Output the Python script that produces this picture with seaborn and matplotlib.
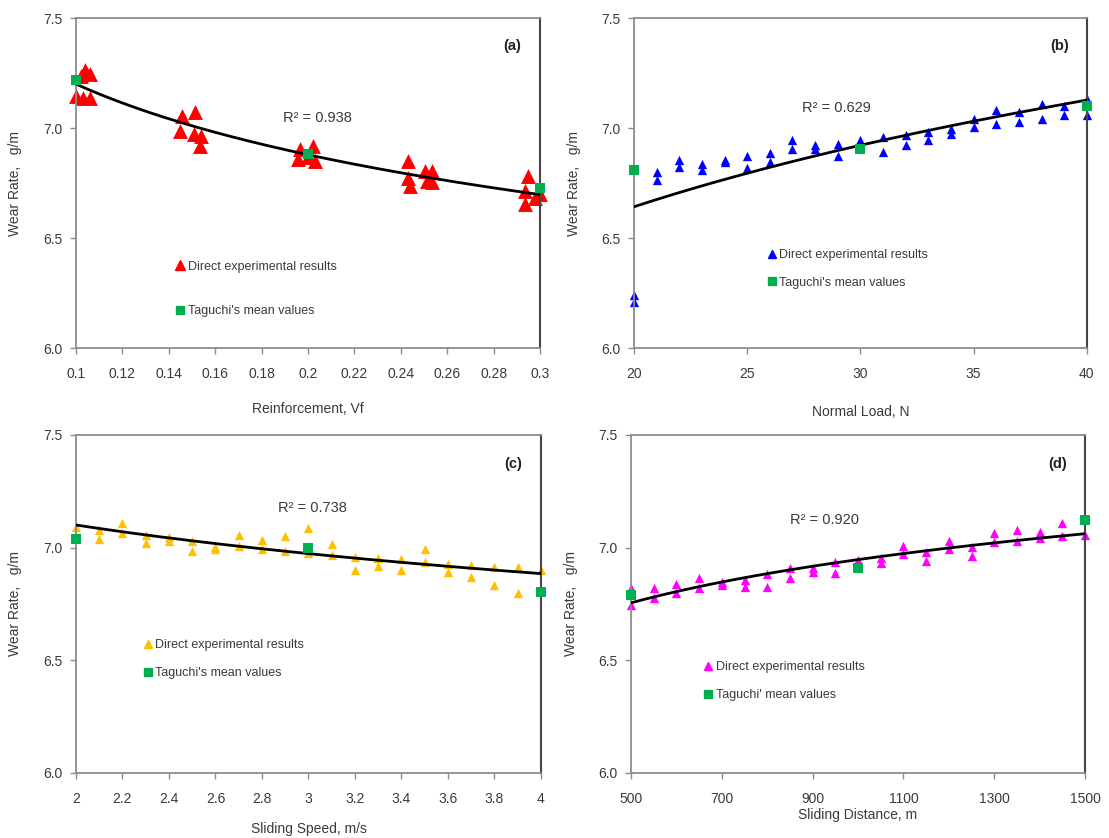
import numpy as np
import matplotlib
matplotlib.use('Agg')
import matplotlib.pyplot as plt
import seaborn as sns
from matplotlib.lines import Line2D

# (a) reinforcement
vf_x = [0.104, 0.106, 0.102, 0.100, 0.103, 0.106,
        0.1456, 0.1513, 0.1448, 0.151, 0.154, 0.1535,
        0.1966, 0.2023, 0.1958, 0.2001, 0.203,
        0.2432, 0.2432, 0.244, 0.2504, 0.2533, 0.2512, 0.2535,
        0.295, 0.2935, 0.2935, 0.298, 0.300]
vf_wear = [7.265, 7.245, 7.235, 7.145, 7.135, 7.135,
           7.056, 7.071, 6.988, 6.974, 6.965, 6.920,
           6.904, 6.919, 6.858, 6.866, 6.851,
           6.851, 6.774, 6.737, 6.805, 6.805, 6.759, 6.756,
           6.782, 6.714, 6.653, 6.683, 6.699]
vf_mean_x = [0.1, 0.2, 0.3]
vf_mean = [7.219, 6.884, 6.729]

# (b) normal load
load_x = [20, 21, 22, 23, 24, 25, 26, 27, 28, 29, 30, 31, 32, 33, 34, 35, 36, 37, 38, 39, 40,
          20, 21, 22, 23, 24, 25, 26, 27, 28, 29, 30, 31, 32, 33, 34, 35, 36, 37, 38, 39, 40]
load_wear = [6.239, 6.800, 6.853, 6.838, 6.853, 6.873, 6.888, 6.944, 6.921, 6.929, 6.944,
             6.959, 6.970, 6.982, 6.997, 7.042, 7.080, 7.073, 7.110, 7.100, 7.133,
             6.209, 6.762, 6.823, 6.807, 6.845, 6.818, 6.845, 6.906, 6.906, 6.875, 6.920,
             6.891, 6.921, 6.944, 6.974, 7.005, 7.020, 7.027, 7.042, 7.057, 7.057]
load_mean_x = [20, 30, 40]
load_mean = [6.807, 6.906, 7.100]

# (c) sliding speed
speed_x = [2.0, 2.1, 2.2, 2.3, 2.4, 2.5, 2.6, 2.7, 2.8, 2.9, 3.0, 3.1, 3.2, 3.3, 3.4, 3.5, 3.6, 3.7, 3.8, 3.9, 4.0,
           2.1, 2.2, 2.3, 2.4, 2.5, 2.6, 2.7, 2.8, 2.9, 3.0, 3.1, 3.2, 3.3, 3.4, 3.5, 3.6, 3.7, 3.8, 3.9]
speed_wear = [7.092, 7.077, 7.107, 7.055, 7.045, 7.029, 7.003, 7.055, 7.032, 7.050, 7.085,
              7.018, 6.958, 6.955, 6.951, 6.996, 6.929, 6.921, 6.914, 6.914, 6.899,
              7.036, 7.065, 7.020, 7.030, 6.985, 6.996, 7.006, 6.996, 6.985, 6.976,
              6.966, 6.899, 6.917, 6.899, 6.936, 6.891, 6.869, 6.832, 6.798]
speed_mean_x = [2, 3, 4]
speed_mean = [7.040, 7.000, 6.802]

# (d) sliding distance
dist_x = [500, 550, 600, 650, 700, 750, 800, 850, 900, 950, 1000, 1050, 1100, 1150, 1200,
          1250, 1300, 1350, 1400, 1450, 1500,
          500, 550, 600, 650, 700, 750, 800, 850, 900, 950, 1050, 1100, 1150, 1200,
          1250, 1300, 1350, 1400, 1450]
dist_wear = [6.819, 6.819, 6.837, 6.864, 6.849, 6.856, 6.881, 6.908, 6.908, 6.938, 6.945,
             6.953, 7.009, 6.982, 7.030, 7.004, 7.064, 7.079, 7.071, 7.108, 7.056,
             6.745, 6.775, 6.797, 6.822, 6.834, 6.827, 6.827, 6.864, 6.890, 6.886,
             6.930, 6.970, 6.941, 6.994, 6.964, 7.024, 7.030, 7.041, 7.053]
dist_mean_x = [500, 1000, 1500]
dist_mean = [6.790, 6.911, 7.123]

sns.set_style('white')
plt.rcParams['font.family'] = ['Liberation Sans', 'DejaVu Sans']
txt = '#3a3a3a'
green = '#00b050'

fig = plt.figure(figsize=(11.09, 8.38), dpi=100)


def panel(rect, x, y, mx, my, color, tri_s, leg_ms, xlim, xticks, xticklabels, xlabel,
          r2, r2pos, tag, legpos, lspace, sq_label, xlab_y):
    ax = fig.add_axes(rect)
    sns.scatterplot(x=x, y=y, marker='^', color=color, s=tri_s, linewidth=0, ax=ax,
                    zorder=2, clip_on=False)
    # power trend line (Excel style)
    b, ln_a = np.polyfit(np.log(x), np.log(y), 1)
    xs = np.linspace(xlim[0], xlim[1], 200)
    sns.lineplot(x=xs, y=np.exp(ln_a) * xs ** b, color='black', linewidth=2, ax=ax, zorder=3)
    sns.scatterplot(x=mx, y=my, marker='s', color=green, s=45, linewidth=0, ax=ax,
                    zorder=4, clip_on=False)

    ax.set_xlim(xlim)
    ax.set_ylim(6.0, 7.5)
    ax.set_xticks(xticks)
    ax.set_xticklabels(xticklabels)
    ax.set_yticks([6.0, 6.5, 7.0, 7.5])
    ax.set_yticklabels(['6.0', '6.5', '7.0', '7.5'])
    ax.tick_params(axis='both', direction='out', length=4, width=1, color='#8c8c8c',
                   labelsize=10, labelcolor=txt, left=True, bottom=True)
    ax.tick_params(axis='x', pad=10)
    ax.tick_params(axis='y', pad=6)
    for side in ['left', 'bottom', 'top']:
        ax.spines[side].set_color('#8c8c8c')
        ax.spines[side].set_linewidth(1.3)
    ax.spines['right'].set_color('#454545')
    ax.spines['right'].set_linewidth(1.5)

    ax.set_xlabel(xlabel, fontsize=10, color=txt)
    ax.set_ylabel('Wear Rate,   g/m', fontsize=10, color=txt)
    ax.xaxis.set_label_coords(0.5, xlab_y)
    ax.yaxis.set_label_coords(-0.117, 0.5)

    ax.text(r2pos[0], r2pos[1], 'R² = ' + r2, transform=ax.transAxes, ha='center',
            va='center', fontsize=10.5, color=txt)
    ax.text(0.94, 0.915, tag, transform=ax.transAxes, ha='center', va='center',
            fontsize=10.5, fontweight='bold', color='#222222')

    handles = [Line2D([], [], marker='^', color=color, linestyle='', markersize=leg_ms),
               Line2D([], [], marker='s', color=green, linestyle='', markersize=6)]
    ax.legend(handles, ['Direct experimental results', sq_label], loc='upper left',
              bbox_to_anchor=legpos, frameon=False, handlelength=0.7, handletextpad=0.25,
              borderpad=0, borderaxespad=0, labelspacing=lspace, fontsize=9,
              labelcolor=txt)
    return ax


panel([0.0685, 0.5847, 0.4185, 0.3938], vf_x, vf_wear, vf_mean_x, vf_mean, '#ff0000', 115, 7,
      (0.1, 0.3), [0.1, 0.12, 0.14, 0.16, 0.18, 0.2, 0.22, 0.24, 0.26, 0.28, 0.3],
      ['0.1', '0.12', '0.14', '0.16', '0.18', '0.2', '0.22', '0.24', '0.26', '0.28', '0.3'],
      'Reinforcement, Vf', '0.938', (0.52, 0.697), '(a)', (0.215, 0.265), 2.6,
      "Taguchi's mean values", -0.164)

panel([0.5717, 0.5847, 0.4083, 0.3938], load_x, load_wear, load_mean_x, load_mean, '#0000ff', 45, 6,
      (20, 40), [20, 25, 30, 35, 40], ['20', '25', '30', '35', '40'],
      'Normal Load, N', '0.629', (0.446, 0.727), '(b)', (0.295, 0.30), 1.24,
      "Taguchi's mean values", -0.173)

panel([0.0685, 0.0776, 0.4193, 0.4034], speed_x, speed_wear, speed_mean_x, speed_mean, '#ffc000', 45, 6,
      (2, 4), [2, 2.2, 2.4, 2.6, 2.8, 3, 3.2, 3.4, 3.6, 3.8, 4],
      ['2', '2.2', '2.4', '2.6', '2.8', '3', '3.2', '3.4', '3.6', '3.8', '4'],
      'Sliding Speed, m/s', '0.738', (0.508, 0.784), '(c)', (0.145, 0.395), 1.24,
      "Taguchi's mean values", -0.145)

panel([0.569, 0.0776, 0.4094, 0.4034], dist_x, dist_wear, dist_mean_x, dist_mean, '#ff00ff', 45, 6,
      (500, 1500), [500, 700, 900, 1100, 1300, 1500],
      ['500', '700', '900', '1100', '1300', '1500'],
      'Sliding Distance, m', '0.920', (0.427, 0.749), '(d)', (0.16, 0.33), 1.24,
      "Taguchi' mean values", -0.105)

fig.savefig('out.png', dpi=100)
